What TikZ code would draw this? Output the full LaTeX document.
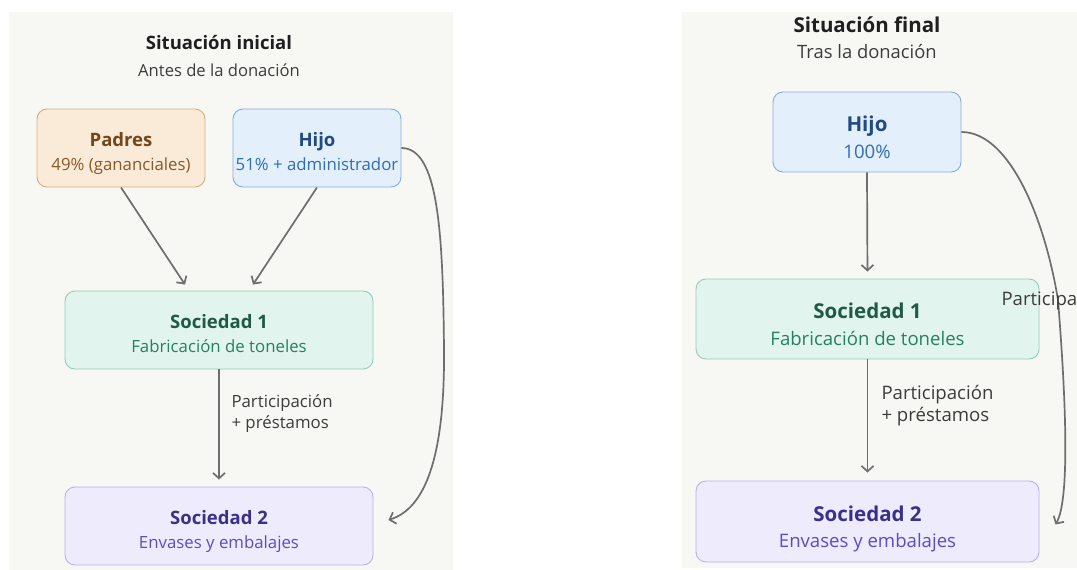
\documentclass[tikz,border=0pt]{standalone}
\usepackage{fontspec}
\setmainfont{Open Sans}
\usetikzlibrary{arrows.meta}

\definecolor{panel}{HTML}{F7F7F3}
\definecolor{padresF}{HTML}{FAEBD8}
\definecolor{padresD}{HTML}{D8AE80}
\definecolor{padresT}{HTML}{74461A}
\definecolor{padresS}{HTML}{8C5824}
\definecolor{hijoF}{HTML}{E3F0FB}
\definecolor{hijoD}{HTML}{86AEDD}
\definecolor{hijoT}{HTML}{1F4A85}
\definecolor{hijoS}{HTML}{2F6DB5}
\definecolor{socunoF}{HTML}{E1F4EE}
\definecolor{socunoD}{HTML}{93CDB8}
\definecolor{socunoT}{HTML}{1E5A45}
\definecolor{socunoS}{HTML}{278063}
\definecolor{socdosF}{HTML}{EEECFC}
\definecolor{socdosD}{HTML}{B9B0F0}
\definecolor{socdosT}{HTML}{3A2F8A}
\definecolor{socdosS}{HTML}{5A4BC9}
\definecolor{arrgray}{HTML}{6E6E6E}
\definecolor{lblgray}{HTML}{3C3C3C}

% sizes of the left panel (the right one is a bit larger)
\newcommand{\tsize}{18.5}
\newcommand{\ssize}{16.8}
\newcommand{\lskip}{24}
\newcommand{\hone}{26.4pt}
\newcommand{\boxlabel}[3]{{\color{#1}\fontsize{\tsize}{22}\selectfont\bfseries\rule{0pt}{\hone}#2}\\\rule[-5.5pt]{0pt}{5.5pt}#3}

\tikzset{
  box/.style={draw, rounded corners=10pt, line width=0.9pt, align=center,
    inner sep=0pt, font=\fontsize{\ssize}{\lskip}\selectfont},
  padresbox/.style={box, fill=padresF, draw=padresD, text=padresS},
  hijobox/.style={box, fill=hijoF, draw=hijoD, text=hijoS},
  socunobox/.style={box, fill=socunoF, draw=socunoD, text=socunoS},
  socdosbox/.style={box, fill=socdosF, draw=socdosD, text=socdosS},
  arr/.style={draw=arrgray, line width=1.7pt, -{Straight Barb[length=5.5pt,width=12pt]}},
  lbl/.style={anchor=west, align=left, text=lblgray},
  titulo/.style={text=black!88, font=\fontsize{\tsize}{22}\selectfont\bfseries},
  subtitulo/.style={text=lblgray},
}

\begin{document}
\begin{tikzpicture}[x=1pt,y=-1pt]
\useasboundingbox (0,0) rectangle (1077,570);
\fill[white] (0,0) rectangle (1077,570);

% background panels
\fill[panel] (9,12) rectangle (453,570);
\fill[panel] (682,12) rectangle (1077,568);

% draw nodes: situacion inicial
\node[titulo] (tituloA) at (219,43) {Situación inicial};
\node[subtitulo, font=\fontsize{16.6}{20}\selectfont] (subA) at (219,70) {Antes de la donación};

\node[padresbox, minimum width=168pt, minimum height=78pt] (padres) at (121,148)
  {\boxlabel{padresT}{Padres}{49\% (gananciales)}};
\node[hijobox, minimum width=168pt, minimum height=78pt] (hijoA) at (317,148)
  {\boxlabel{hijoT}{Hijo}{51\% + administrador}};
\node[socunobox, minimum width=308pt, minimum height=78pt] (socunoA) at (219,330)
  {\boxlabel{socunoT}{Sociedad 1}{Fabricación de toneles}};
\node[socdosbox, minimum width=308pt, minimum height=78pt] (socdosA) at (219,526)
  {\boxlabel{socdosT}{Sociedad 2}{Envases y embalajes}};

% draw arrows
\draw[arr] (padres.south) -- ([xshift=-34pt,yshift=6pt]socunoA.north);
\draw[arr] (hijoA.south) -- ([xshift=34pt,yshift=6pt]socunoA.north);
\draw[arr, shorten >=7pt] (socunoA.south) -- (socdosA.north);
\node[lbl, font=\fontsize{16.8}{21}\selectfont] (partA) at (228,414) {Participación\\+ préstamos};
\draw[arr] (hijoA.east) .. controls (438,148) and (443,230) .. (444,350)
  .. controls (445,470) and (420,510) .. ([xshift=15pt,yshift=6pt]socdosA.east);

% draw nodes: situacion final
\renewcommand{\tsize}{20.5}
\renewcommand{\ssize}{18.6}
\renewcommand{\lskip}{26.5}
\renewcommand{\hone}{31pt}
\node[titulo] (tituloB) at (867,25) {Situación final};
\node[subtitulo, font=\fontsize{18.4}{22}\selectfont] (subB) at (867,52) {Tras la donación};

\node[hijobox, minimum width=188pt, minimum height=80pt] (hijoB) at (867,132)
  {\boxlabel{hijoT}{Hijo}{100\%}};
\node[socunobox, minimum width=343pt, minimum height=80pt] (socunoB) at (867.5,319)
  {\boxlabel{socunoT}{Sociedad 1}{Fabricación de toneles}};
\node[socdosbox, minimum width=343pt, minimum height=81pt] (socdosB) at (867.5,521.5)
  {\boxlabel{socdosT}{Sociedad 2}{Envases y embalajes}};

% draw arrows
\draw[arr, shorten >=7pt] (hijoB.south) -- (socunoB.north);
\draw[arr, shorten >=8pt] (socunoB.south) -- (socdosB.north);
\node[lbl, font=\fontsize{18.6}{22}\selectfont] (partB) at (878,406) {Participación\\+ préstamos};
\draw[arr] (hijoB.east) .. controls (1010,132) and (1045,220) .. (1058,300)
  .. controls (1066,400) and (1070,500) .. ([xshift=16pt,yshift=-3pt]socdosB.east);
\node[lbl, font=\fontsize{18.6}{22}\selectfont] (partC) at (998,301) {Participa};

\end{tikzpicture}
\end{document}
